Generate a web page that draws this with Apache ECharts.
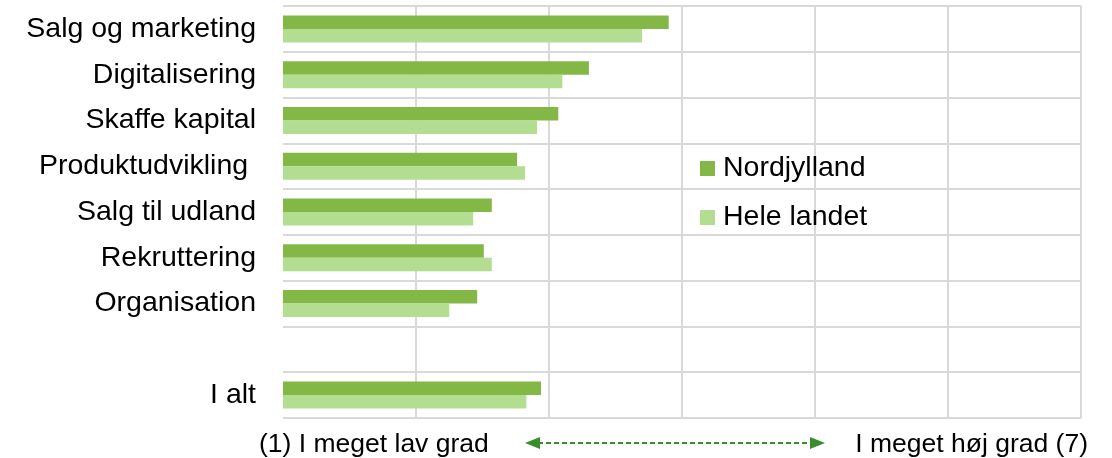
<!DOCTYPE html>
<html>
<head>
<meta charset="utf-8">
<script src="https://cdn.jsdelivr.net/npm/echarts@6/dist/echarts.min.js"></script>
<style>
  html, body { margin: 0; padding: 0; background: #fff; }
  #chart { width: 1112px; height: 458px; }
</style>
</head>
<body>
<div id="chart"></div>
<script>
const categories = ['Salg og marketing', 'Digitalisering', 'Skaffe kapital', 'Produktudvikling ', 'Salg til udland', 'Rekruttering', 'Organisation', '', 'I alt']
const nordjylland = [3.90, 3.30, 3.07, 2.76, 2.57, 2.51, 2.46, null, 2.94]
const heleLandet = [3.70, 3.10, 2.91, 2.82, 2.43, 2.57, 2.25, null, 2.83]
const seriesNames = ['Nordjylland', 'Hele landet']
const scaleLabels = ['(1) I meget lav grad', 'I meget høj grad (7)']

const FONT = 'Liberation Sans, Arial, sans-serif'
const colDark = '#84b846'
const colLight = '#b3dd91'
const gridCol = '#d9d9d9'
const arrowCol = '#3a8d2c'

const chart = echarts.init(document.getElementById('chart'))

const option = {
  backgroundColor: '#fff',
  animation: false,
  textStyle: { fontFamily: FONT },
  grid: { left: 283, right: 31, top: 6, bottom: 40 },
  legend: {
    data: seriesNames,
    orient: 'vertical',
    left: 700,
    top: 154,
    padding: 0,
    itemWidth: 15,
    itemHeight: 15,
    itemGap: 20,
    icon: 'rect',
    textStyle: { fontSize: 28.5, color: '#000', fontFamily: FONT, padding: [0, 0, 0, 3] }
  },
  xAxis: {
    type: 'value',
    min: 1,
    max: 7,
    interval: 1,
    axisLabel: { show: false },
    axisLine: { show: false },
    axisTick: { show: false },
    splitLine: {
      lineStyle: {
        width: 2,
        color: ['rgba(0,0,0,0)', gridCol, gridCol, gridCol, gridCol, gridCol, gridCol]
      }
    }
  },
  yAxis: {
    type: 'category',
    inverse: true,
    data: categories,
    axisLine: { show: false },
    axisTick: { show: false },
    axisLabel: { fontSize: 28.5, color: '#000', margin: 27, fontFamily: FONT },
    splitLine: { show: true, lineStyle: { color: gridCol, width: 2 } }
  },
  series: [
    {
      name: seriesNames[0],
      type: 'bar',
      data: nordjylland,
      barWidth: 13.5,
      barGap: '0%',
      itemStyle: { color: colDark }
    },
    {
      name: seriesNames[1],
      type: 'bar',
      data: heleLandet,
      barWidth: 13.5,
      barGap: '0%',
      itemStyle: { color: colLight }
    }
  ],
  graphic: [
    {
      type: 'text', x: 259, y: 445,
      style: { text: scaleLabels[0], font: '26.5px ' + FONT, fill: '#000', align: 'left', verticalAlign: 'middle' }
    },
    {
      type: 'text', x: 1088, y: 445,
      style: { text: scaleLabels[1], font: '26.5px ' + FONT, fill: '#000', align: 'right', verticalAlign: 'middle' }
    },
    {
      type: 'line',
      shape: { x1: 538, y1: 443, x2: 812, y2: 443 },
      style: { stroke: arrowCol, lineWidth: 2, lineDash: [5, 3] }
    },
    {
      type: 'polygon',
      shape: { points: [[525, 443], [540, 437], [540, 449]] },
      style: { fill: arrowCol }
    },
    {
      type: 'polygon',
      shape: { points: [[825, 443], [810, 437], [810, 449]] },
      style: { fill: arrowCol }
    }
  ]
}

chart.setOption(option)
window.addEventListener('resize', () => chart.resize())
</script>
</body>
</html>
